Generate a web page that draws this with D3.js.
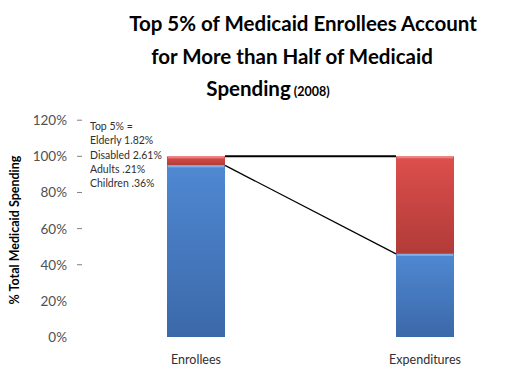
<!DOCTYPE html>
<html>
<head>
<meta charset="utf-8">
<script src="https://cdn.jsdelivr.net/npm/d3@7"></script>
<style>
  body { margin: 0; background: #fff; }
  text { font-family: Lato, "Open Sans", sans-serif; }
</style>
</head>
<body>
<svg width="527" height="376"></svg>
<script>
// data
var categories = ["Enrollees", "Expenditures"];
var bottom95 = [95, 46];   // share held by the other 95% of enrollees
var top5 = [5, 54];        // share held by the top 5%
var yTicks = [0, 20, 40, 60, 80, 100, 120];
var noteLines = ["Top 5% =", "Elderly 1.82%", "Disabled 2.61%", "Adults .21%", "Children .36%"];
var titleLines = ["Top 5% of Medicaid Enrollees Account", "for More than Half of Medicaid", "Spending"];

var svg = d3.select("svg");

var y = d3.scaleLinear().domain([0, 120]).range([337, 120.2]);
var x = d3.scalePoint().domain(categories).range([196, 425]);
var barW = 58;

// gradients
var defs = svg.append("defs");
function grad(id, c1, c2) {
    var g = defs.append("linearGradient").attr("id", id)
        .attr("x1", 0).attr("y1", 0).attr("x2", 0).attr("y2", 1);
    g.append("stop").attr("offset", "0%").attr("stop-color", c1);
    g.append("stop").attr("offset", "100%").attr("stop-color", c2);
}
grad("blueG", "#4f88d2", "#3b69a9");
grad("redG", "#dc4f4c", "#b13b38");

// title
svg.append("g").selectAll("text")
    .data(titleLines)
    .enter()
    .append("text")
    .attr("x", function (d, i) { return [303, 292, 268][i]; })
    .attr("y", function (d, i) { return 31 + i * 32.5; })
    .attr("text-anchor", "middle")
    .style("font-size", "20.5px")
    .style("font-weight", "bold")
    .attr("fill", "#000")
    .text(function (d) { return d; })
    .filter(function (d, i) { return i === 2; })
    .append("tspan")
    .style("font-size", "12.5px")
    .text(" (2008)");

// y axis labels
var axis = svg.append("g");
axis.selectAll("text")
    .data(yTicks)
    .enter()
    .append("text")
    .attr("x", 67)
    .attr("y", function (d) { return y(d) + 5; })
    .attr("text-anchor", "end")
    .style("font-size", "13.5px")
    .attr("fill", "#505050")
    .text(function (d) { return d + "%"; });

axis.selectAll("line")
    .data(yTicks.filter(function (d) { return d >= 40; }))
    .enter()
    .append("line")
    .attr("x1", 77).attr("x2", 82)
    .attr("y1", function (d) { return y(d); })
    .attr("y2", function (d) { return y(d); })
    .attr("stroke", "#808080")
    .attr("stroke-width", 1);

svg.append("text")
    .attr("transform", "translate(19," + 230 + ") rotate(-90)")
    .attr("text-anchor", "middle")
    .style("font-size", "12.5px")
    .style("font-weight", "bold")
    .attr("fill", "#000")
    .text("% Total Medicaid Spending");

// bars
var rows = categories.map(function (c, i) {
    return { cat: c, low: bottom95[i], high: top5[i] };
});

var bars = svg.append("g").selectAll("g")
    .data(rows)
    .enter()
    .append("g");

bars.append("rect")
    .attr("x", function (d) { return x(d.cat) - barW / 2; })
    .attr("y", function (d) { return y(d.low); })
    .attr("width", barW)
    .attr("height", function (d) { return y(0) - y(d.low); })
    .attr("fill", "url(#blueG)");

bars.append("rect")
    .attr("x", function (d) { return x(d.cat) - barW / 2; })
    .attr("y", function (d) { return y(d.low + d.high); })
    .attr("width", barW)
    .attr("height", function (d) { return y(d.low) - y(d.low + d.high); })
    .attr("fill", "url(#redG)");

// bevel highlights
bars.append("rect")
    .attr("x", function (d) { return x(d.cat) - barW / 2 + 1; })
    .attr("y", function (d) { return y(d.low); })
    .attr("width", barW - 2)
    .attr("height", 2)
    .attr("fill", "#8fb6ea")
    .attr("opacity", 0.8);

bars.append("rect")
    .attr("x", function (d) { return x(d.cat) - barW / 2 + 1; })
    .attr("y", function (d) { return y(d.low + d.high); })
    .attr("width", barW - 2)
    .attr("height", 2)
    .attr("fill", "#f08a88")
    .attr("opacity", 0.8);

// connector lines
var xa = x(categories[0]) + barW / 2;
var xb = x(categories[1]) - barW / 2;
svg.append("line")
    .attr("x1", xa).attr("x2", xb)
    .attr("y1", y(bottom95[0] + top5[0])).attr("y2", y(bottom95[1] + top5[1]))
    .attr("stroke", "#000").attr("stroke-width", 2);
svg.append("line")
    .attr("x1", xa).attr("x2", xb)
    .attr("y1", y(bottom95[0])).attr("y2", y(bottom95[1]))
    .attr("stroke", "#000").attr("stroke-width", 1.3);

// category labels
svg.append("g").selectAll("text")
    .data(categories)
    .enter()
    .append("text")
    .attr("x", function (d) { return x(d); })
    .attr("y", 364)
    .attr("text-anchor", "middle")
    .style("font-size", "12.5px")
    .attr("fill", "#303030")
    .text(function (d) { return d; });

// annotation
svg.append("g").selectAll("text")
    .data(noteLines)
    .enter()
    .append("text")
    .attr("x", 90)
    .attr("y", function (d, i) { return 130 + i * 14.3; })
    .style("font-size", "10.5px")
    .attr("fill", "#303030")
    .text(function (d) { return d; });
</script>
</body>
</html>
